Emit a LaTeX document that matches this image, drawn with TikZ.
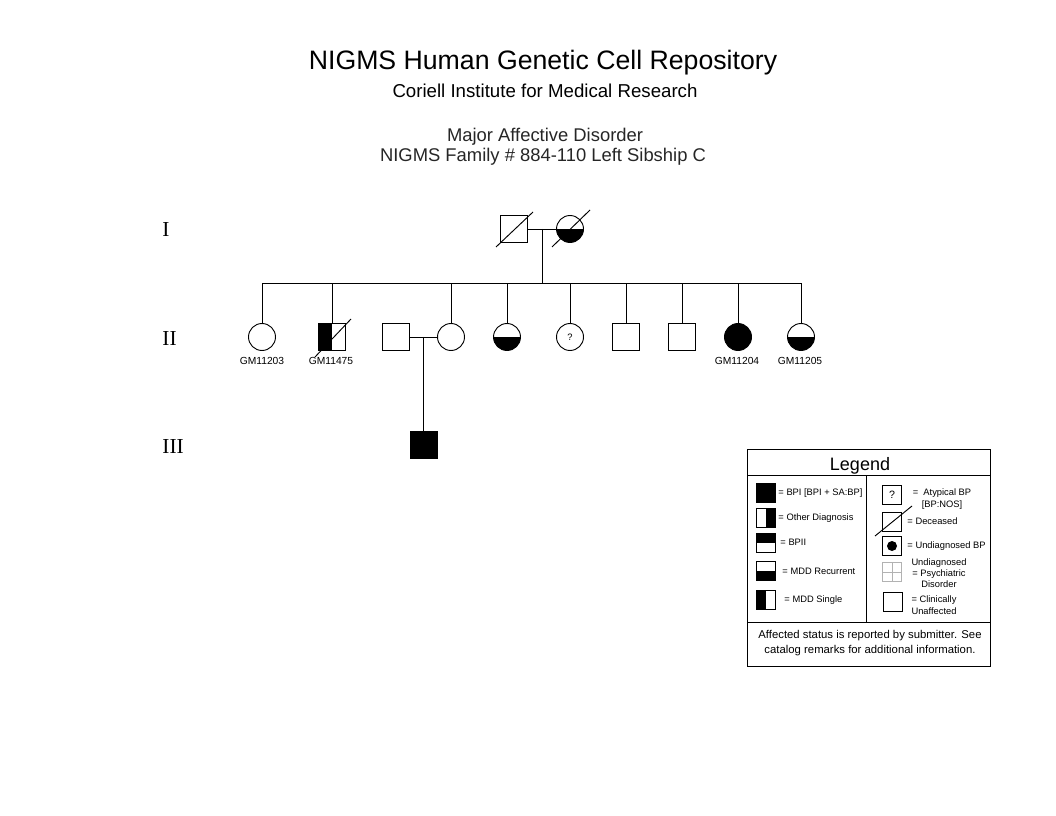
\documentclass[tikz,border=0pt]{standalone}
\usepackage{fontspec}
\setmainfont{Liberation Sans}
\newfontfamily\romanfont{Liberation Serif}
\usetikzlibrary{calc}
\begin{document}
\begin{tikzpicture}[x=0.75pt,y=-0.75pt,line width=0.7pt,
  male/.style={draw,rectangle,minimum size=20.25pt,inner sep=0pt},
  female/.style={draw,circle,minimum size=20.25pt,inner sep=0pt},
  keybox/.style={draw,rectangle,minimum size=14.25pt,inner sep=0pt},
  tophalf/.style={path picture={\fill (path picture bounding box.north west) rectangle (path picture bounding box.east);}},
  bottomhalf/.style={path picture={\fill (path picture bounding box.west) rectangle (path picture bounding box.south east);}},
  lefthalf/.style={path picture={\fill (path picture bounding box.south west) rectangle (path picture bounding box.north);}},
  righthalf/.style={path picture={\fill (path picture bounding box.south) rectangle (path picture bounding box.north east);}},
  idlabel/.style={font=\fontsize{7.7}{9}\selectfont,anchor=base,inner sep=0pt},
  keytext/.style={font=\fontsize{7}{8.5}\selectfont,anchor=west,inner sep=0pt},
  genlabel/.style={font=\romanfont\fontsize{16}{18}\selectfont,anchor=base west,inner sep=0pt}]
\useasboundingbox (0,0) rectangle (1056,816);
% titles
\node[anchor=base,inner sep=0pt] (title) at (543,70) {\fontsize{20}{24}\selectfont NIGMS Human Genetic Cell Repository};
\node[anchor=base,inner sep=0pt] (inst) at (545,98) {\fontsize{14}{17}\selectfont Coriell Institute for Medical Research};
\node[anchor=base,inner sep=0pt,text=black!85] (dis) at (545,142) {\fontsize{13.8}{16}\selectfont Major Affective Disorder};
\node[anchor=base,inner sep=0pt,text=black!85] (fam) at (543,162) {\fontsize{13.8}{16}\selectfont NIGMS Family \# 884-110 Left Sibship C};
% generations
\node[genlabel] (gI) at (162,237) {I};
\node[genlabel] (gII) at (162,345) {II};
\node[genlabel] (gIII) at (162,453) {III};
% generation I
\node[male] (p1) at (514,229) {};
\node[female,bottomhalf] (p2) at (570,229) {};
\draw ([shift={(-18,18)}]p1.center) -- ([shift={(19,-17)}]p1.center);
\draw ([shift={(-18,18)}]p2.center) -- ([shift={(20,-19)}]p2.center);
\draw (p1) -- (p2);
\coordinate (m1) at ($(p1.east)!0.5!(p2.west)$);
\coordinate (sib) at ($(m1)+(0,54)$);
% generation II
\node[female] (a1) at (262,337) {};
\node[male,lefthalf] (a2) at (332,337) {};
\node[male] (s1) at (396,337) {};
\node[female] (a3) at (451,337) {};
\node[female,bottomhalf] (a4) at (507,337) {};
\node[female,font=\fontsize{7}{8}\selectfont] (a5) at (570,337) {?};
\node[male] (a6) at (626,337) {};
\node[male] (a7) at (682,337) {};
\node[female,fill] (a8) at (738,337) {};
\node[female,bottomhalf] (a9) at (801,337) {};
\draw ([shift={(-17,20)}]a2.center) -- ([shift={(19,-18)}]a2.center);
\draw (m1) -- (sib);
\draw (a1 |- sib) -- (a9 |- sib);
\foreach \c in {a1,a2,a3,a4,a5,a6,a7,a8,a9}
  \draw (\c.north) -- (\c |- sib);
\node[idlabel] (l1) at (262,364) {GM11203};
\node[idlabel] (l2) at (331,364) {GM11475};
\node[idlabel] (l8) at (737,364) {GM11204};
\node[idlabel] (l9) at (800,364) {GM11205};
% generation III
\draw (s1) -- (a3);
\coordinate (m2) at ($(s1.east)!0.5!(a3.west)$);
\node[male,fill] (b1) at (m2 |- 0,445) {};
\draw (m2) -- (b1);
% legend
\draw (747,449) rectangle (990,666);
\draw (747,475) -- (990,475);
\draw (866,475) -- (866,622);
\draw (747,622) -- (990,622);
\node[anchor=base,inner sep=0pt] (leg) at (860,470) {\fontsize{13.5}{16}\selectfont Legend};
\node[keybox,fill] (k1) at (766,493) {};
\node[keybox,righthalf] (k2) at (766,518) {};
\node[keybox,tophalf] (k3) at (766,543) {};
\node[keybox,bottomhalf] (k4) at (766,571) {};
\node[keybox,lefthalf] (k5) at (766,600) {};
\node[keytext] (t1) at (778,493) {= BPI [BPI + SA:BP]};
\node[keytext] (t2) at (778,518) {= Other Diagnosis};
\node[keytext] (t3) at (780,542) {= BPII};
\node[keytext] (t4) at (782,571) {= MDD Recurrent};
\node[keytext] (t5) at (784,600) {= MDD Single};
\node[keybox,font=\fontsize{8}{9}\selectfont] (k6) at (892,495) {?};
\node[keybox] (k7) at (892,522) {};
\draw ([shift={(-17,14)}]k7.center) -- ([shift={(20,-16)}]k7.center);
\node[keybox] (k8) at (892,546) {};
\fill (k8.center) circle (3.75pt);
\node[keybox,draw=gray!60,path picture={\draw[gray!60] (path picture bounding box.north) -- (path picture bounding box.south) (path picture bounding box.west) -- (path picture bounding box.east);}] (k9) at (892,572) {};
\node[keybox] (k10) at (893,602) {};
\node[keytext,anchor=center,align=center] (t6) at (942,499) {=\ \ Atypical BP\\{[BP:NOS]}};
\node[keytext] (t7) at (907,521) {= Deceased};
\node[keytext] (t8) at (907,546) {= Undiagnosed BP};
\node[keytext,anchor=center,align=center] (t9) at (939,573) {Undiagnosed\\= Psychiatric\\Disorder};
\node[keytext,anchor=center,align=center] (t10) at (934,605) {= Clinically\\Unaffected};
\node[align=center,inner sep=0pt,font=\fontsize{8.5}{11.5}\selectfont] (note) at (870,643) {Affected status is reported by submitter. See\\catalog remarks for additional information.};
\end{tikzpicture}
\end{document}
